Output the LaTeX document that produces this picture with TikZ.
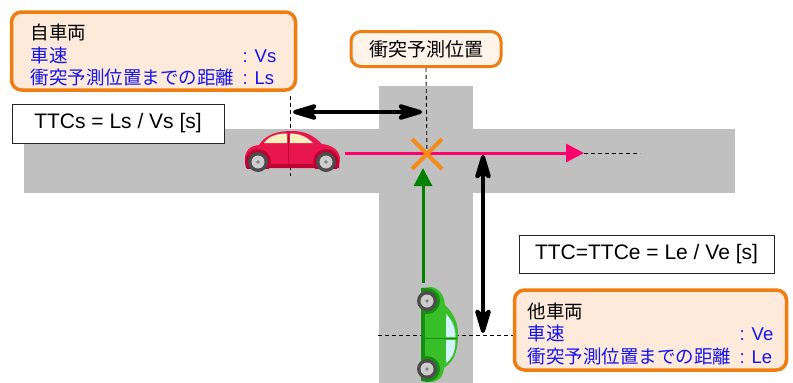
\documentclass[tikz,border=0pt]{standalone}
\usepackage{fontspec}
\setmainfont{Liberation Sans}
\newfontfamily\jp{Noto Sans CJK JP}
\usetikzlibrary{arrows.meta, shapes.misc}

\definecolor{roadgray}{RGB}{192,192,192}
\definecolor{boxorange}{RGB}{240,125,15}
\definecolor{boxfill}{RGB}{253,234,218}
\definecolor{labelfill}{RGB}{255,244,234}
\definecolor{txtblue}{RGB}{20,20,235}
\definecolor{pathpink}{RGB}{255,0,110}
\definecolor{pathgreen}{RGB}{0,130,0}
\definecolor{crashorange}{RGB}{245,140,25}
\definecolor{redbody}{RGB}{232,22,78}
\definecolor{reddark}{RGB}{190,0,50}
\definecolor{redglass}{RGB}{255,240,190}
\definecolor{greenbody}{RGB}{55,190,40}
\definecolor{greendark}{RGB}{25,140,20}
\definecolor{greenglass}{RGB}{210,245,252}

\tikzset{
  pics/car/.style n args={3}{code={
    \fill[#1] (-46,6) -- (-47,-3) .. controls (-47,-12) and (-42,-16) .. (-33,-17)
      .. controls (-26,-28) and (-14,-31) .. (0,-31)
      .. controls (14,-31) and (22,-26) .. (30,-18)
      .. controls (40,-17) and (47,-12) .. (48,-4) -- (47,6) -- cycle;
    \begin{scope}
      \clip (-60,-40) rectangle (60,6);
      \fill[#2] (-34,0) circle (13) (34,0) circle (13);
    \end{scope}
    \fill[#2] (-46,2) rectangle (47,6);
    \fill[#3] (-28,-19) .. controls (-23,-26) and (-15,-28.5) .. (-5,-28.5) -- (-5,-19) -- cycle;
    \fill[#3] (-2,-28.5) .. controls (8,-28.5) and (15,-25) .. (21,-19) -- (-2,-19) -- cycle;
    \draw[#2, line width=0.8] (-3.5,-30) -- (-3.5,4);
    \foreach \wx in {-34,34} {
      \fill[black!70] (\wx,0) circle (10);
      \fill[black!20] (\wx,0) circle (6.5);
      \fill[black!50] (\wx,0) circle (1.8);
    }
  }}
}

\newcommand{\infoline}[2]{\textcolor{txtblue}{\makebox[212pt][l]{\jp #1}: #2}}

\begin{document}
\begin{tikzpicture}[
  x=1pt, y=-1pt,
  road/.style={fill=roadgray},
  guide/.style={dash pattern=on 4pt off 3pt, line width=0.9pt},
  flow/.style={line width=3pt, -{Triangle[length=18pt, width=18pt]}},
  dimarrow/.style={line width=4pt,
    {Stealth[length=32pt, width=19pt, inset=8pt, round]}-{Stealth[length=32pt, width=19pt, inset=8pt, round]}},
  infobox/.style={rectangle, rounded corners=10pt, draw=boxorange, line width=3.5pt, fill=boxfill},
  infotext/.style={align=left, inner sep=0pt, font=\fontsize{18.5}{22.5}\selectfont},
  ttcbox/.style={rectangle, draw=black!85, line width=1pt, fill=white,
    font=\fontsize{21}{24}\selectfont}
]
  \useasboundingbox (0,0) rectangle (793,383);

  % crossroads
  \fill[road] (24,129) rectangle (735,193);
  \fill[road] (379,86) rectangle (473,383);

  \coordinate (ownfront) at (345,153);
  \coordinate (owntip) at (584,153);
  \coordinate (ownend) at (640,153);
  \coordinate (othfront) at (423,283);
  \coordinate (othtip) at (423,168);
  \coordinate (Ls-a) at (293,112);
  \coordinate (Ls-b) at (422,112);
  \coordinate (Le-a) at (483,155);
  \coordinate (Le-b) at (483,333);

  \node[infobox, line width=3pt, fill=labelfill, minimum width=150pt, minimum height=35pt,
    font=\fontsize{19}{22.5}\selectfont] (predpos) at (426,49) {\jp 衝突予測位置};

  % reference lines
  \draw[guide] (290,96) -- (290,176);
  \draw[guide] (predpos.south) -- (427,153);
  \draw[guide] (owntip) -- (ownend);
  \draw[guide] (378,335) -- (513,335);

  % vehicles
  \pic at (292,162) {car={redbody}{reddark}{redglass}};
  \pic[xscale=-1, rotate=90] at (427,335) {car={greenbody}{greendark}{greenglass}};

  \draw[flow, pathpink] (ownfront) -- (owntip);
  \draw[flow, pathgreen] (othfront) -- (othtip);
  \node[cross out, draw=crashorange, line width=4pt, minimum size=26pt] (crash) at (427,154) {};

  \draw[dimarrow] (Ls-a) -- (Ls-b);
  \draw[dimarrow] (Le-a) -- (Le-b);

  % info boxes
  \node[infobox, minimum width=284pt, minimum height=78pt] (ownbox) at (153.5,51) {};
  \node[infotext, yshift=-4pt] (owntext) at (ownbox.center) {%
    {\jp 自車両}\\
    \infoline{車速}{Vs}\\
    \infoline{衝突予測位置までの距離}{Ls}};
  \node[infobox, minimum width=272pt, minimum height=80pt] (othbox) at (650.5,330) {};
  \node[infotext, yshift=-4pt] (othtext) at (othbox.center) {%
    {\jp 他車両}\\
    \infoline{車速}{Ve}\\
    \infoline{衝突予測位置までの距離}{Le}};

  \node[ttcbox, minimum width=212pt, minimum height=39pt] (ttcs) at (118,123.5) {TTCs = Ls / Vs [s]};
  \node[ttcbox, minimum width=255pt, minimum height=38pt] (ttce) at (646.5,254) {TTC=TTCe = Le / Ve [s]};
\end{tikzpicture}
\end{document}
